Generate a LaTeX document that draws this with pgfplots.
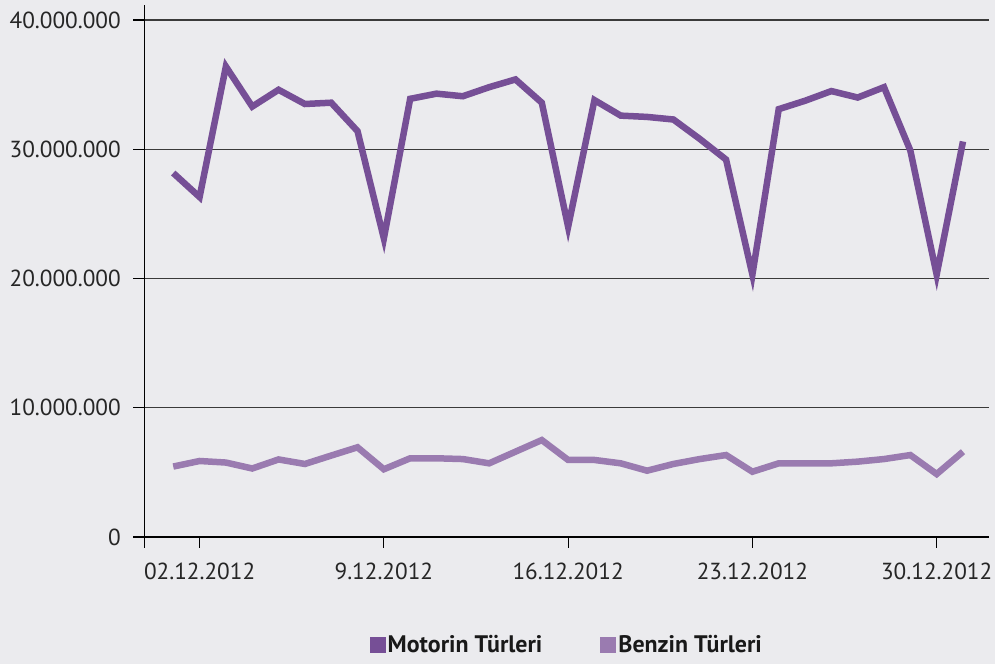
\documentclass[border=0pt]{standalone}
\usepackage{fontspec}
\setmainfont{PT Sans}
\usepackage{pgfplots}
\pgfplotsset{compat=1.18}
\definecolor{bg}{HTML}{EBEBEE}
\definecolor{mot}{HTML}{764F96}
\definecolor{ben}{HTML}{9A7BB0}
\definecolor{gridc}{HTML}{3A3A3A}
\begin{document}
\begin{tikzpicture}[x=1bp,y=1bp]
\fill[bg] (-144.3,-127) rectangle (850.7,537);
\begin{axis}[
  at={(0,0)}, anchor=south west,
  width=845bp, height=532bp, scale only axis,
  xmin=-0.1, xmax=32, ymin=0, ymax=41160000,
  axis x line=bottom, axis y line=left,
  axis line style={-, black, line width=1.2bp},
  xtick={2,9,16,23,30},
  xticklabels={02.12.2012,9.12.2012,16.12.2012,23.12.2012,30.12.2012},
  extra x ticks={-0.1}, extra x tick labels={},
  ytick={0,10000000,20000000,30000000,40000000},
  scaled y ticks=false,
  yticklabel style={/pgf/number format/.cd, fixed, 1000 sep={.}, assume math mode=true, /tikz/.cd, xshift=-9bp},
  xticklabel style={yshift=-11bp},
  tick align=outside,
  major tick length=11bp,
  tick style={black, line width=1.2bp},
  ymajorgrids, grid style={gridc, line width=1.2bp},
  ticklabel style={font=\fontsize{23.3}{27}\selectfont, text=black!85},
  legend columns=2,
  legend style={at={(0.500,-0.203)}, anchor=center, draw=none, fill=none,
    font=\fontsize{24}{28}\selectfont\bfseries, text=black!90,
    /tikz/every even column/.append style={column sep=56bp}},
  legend image code/.code={\fill[#1, draw=none] (-4bp,-8bp) rectangle (12bp,8bp);},
  clip=false,
]
\addplot[mot, line width=6.5bp, line join=miter] coordinates {
(1,28160000) (2,26300000) (3,36400000) (4,33300000) (5,34600000) (6,33500000)
(7,33600000) (8,31400000) (9,23100000) (10,33900000) (11,34300000) (12,34100000)
(13,34800000) (14,35400000) (15,33600000) (16,24000000) (17,33800000) (18,32600000)
(19,32500000) (20,32300000) (21,30800000) (22,29200000) (23,20300000) (24,33100000)
(25,33750000) (26,34500000) (27,34000000) (28,34800000) (29,29900000) (30,20300000)
(31,30600000)};
\addlegendentry{Motorin Türleri}
\addplot[ben, line width=6.5bp, line join=miter] coordinates {
(1,5450000) (2,5880000) (3,5760000) (4,5300000) (5,6000000) (6,5650000)
(7,6300000) (8,6940000) (9,5240000) (10,6090000) (11,6090000) (12,6030000)
(13,5700000) (14,6600000) (15,7500000) (16,5960000) (17,5960000) (18,5700000)
(19,5130000) (20,5650000) (21,6030000) (22,6340000) (23,5050000) (24,5700000)
(25,5700000) (26,5700000) (27,5830000) (28,6030000) (29,6340000) (30,4870000)
(31,6600000)};
\addlegendentry{Benzin Türleri}
\end{axis}
\pgfresetboundingbox
\useasboundingbox (-144.3,-127) rectangle (850.7,537);
\end{tikzpicture}
\end{document}
